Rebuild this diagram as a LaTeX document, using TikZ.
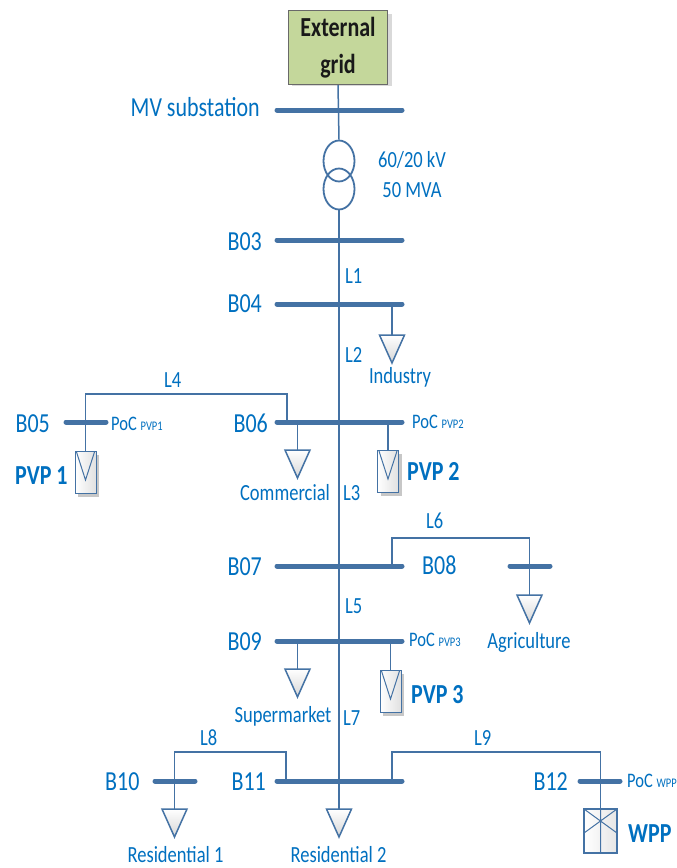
\documentclass[tikz,border=0pt]{standalone}
\usepackage{fontspec}
\setmainfont{Carlito}
\usepackage{graphicx}
\usetikzlibrary{shapes.geometric}
\definecolor{busc}{RGB}{68,114,164}
\definecolor{txtc}{RGB}{0,112,192}
\definecolor{gridfill}{RGB}{196,215,155}
\definecolor{gridline}{RGB}{105,105,105}
\newcommand\vs[1]{\scalebox{1}[1.25]{#1}}
\begin{document}
\begin{tikzpicture}[x=1pt,y=-1pt,
  bus/.style={draw=busc, line width=5pt, line cap=round},
  wire/.style={draw=busc, line width=1.5pt},
  lbl/.style={text=txtc, inner sep=0pt, font=\fontsize{22}{26}\selectfont},
  sml/.style={text=txtc, inner sep=0pt, font=\fontsize{18.5}{22}\selectfont},
  bld/.style={text=txtc, inner sep=0pt, font=\bfseries\fontsize{22}{26}\selectfont},
  poc/.style={text=txtc, inner sep=0pt, font=\fontsize{16.5}{20}\selectfont},
  trafo/.style={ellipse, draw=busc, line width=1.8pt, minimum width=31pt, minimum height=41pt, inner sep=0pt},
  gridbox/.style={draw=gridline, line width=1.2pt, fill=gridfill, minimum width=99pt, minimum height=71pt, inner sep=0pt,
     font=\bfseries\fontsize{22}{29.6}\selectfont, text=black!90},
  loadtri/.pic={\draw[wire, top color=white, bottom color=black!16] (-12.5,0) -- (12.5,0) -- (0,28) -- cycle;},
  panel/.pic={
    \fill[black!22] (-7.5,4) rectangle (13.5,46);
    \draw[draw=busc, line width=1pt, left color=white, right color=black!12] (-10.5,0) rectangle (10.5,42);
    \draw[draw=busc, line width=1pt] (-9,1) -- (0,29) -- (9,1);},
  wppbox/.pic={
    \draw[draw=busc, line width=1.2pt, left color=white, right color=black!10] (-16.5,0) rectangle (16.5,44);
    \draw[draw=busc, line width=1pt] (-16.5,0) -- (16.5,24) (16.5,0) -- (-16.5,24) (0,0) -- (0,44);}
]
\useasboundingbox (0,0) rectangle (677,868);
\fill[white] (0,0) rectangle (677,868);

% external grid
\fill[black!15] (292,14) rectangle (392,86);
\node[gridbox] (grid) at (338,47.5) {\vs{\begin{tabular}{@{}c@{}}External\\grid\end{tabular}}};

% transformer
\node[trafo] (tr1) at (339,161) {};
\node[trafo] (tr2) at (339,189) {};
\node[sml, anchor=base] (trv) at (412,167) {\vs{60/20 kV}};
\node[sml, anchor=base] (trs) at (412,197) {\vs{50 MVA}};

% coordinates
\coordinate (mvw) at (277,110); \coordinate (mve) at (402,110);
\coordinate (b03w) at (277,240); \coordinate (b03e) at (402,240);
\coordinate (b04w) at (277,304); \coordinate (b04e) at (402,304);
\coordinate (b06w) at (277,422); \coordinate (b06e) at (402,422);
\coordinate (b07w) at (277,566); \coordinate (b07e) at (402,566);
\coordinate (b09w) at (277,641); \coordinate (b09e) at (402,641);
\coordinate (b11w) at (277,781); \coordinate (b11e) at (402,781);
\coordinate (b05w) at (66,422); \coordinate (b05e) at (106,422);
\coordinate (b08w) at (510,566); \coordinate (b08e) at (550,566);
\coordinate (b10w) at (155,781); \coordinate (b10e) at (195,781);
\coordinate (b12w) at (580,781); \coordinate (b12e) at (620,781);

% main feeder
\coordinate (res2) at (339,809);
\draw[wire] (grid.south) -- (tr1.north);
\draw[wire] (tr2.south) -- (res2);

% buses
\foreach \b in {mv,b03,b04,b06,b07,b09,b11,b05,b08,b10,b12}
  \draw[bus] (\b w) -- (\b e);

% industry
\coordinate (b04t) at (392,304); \coordinate (ind) at (392,335);
\draw[wire] (b04t) -- (ind);
\pic at (ind) {loadtri};

% L4 and PVP1
\coordinate (b06l4) at (287,422); \coordinate (l4a) at (287,394);
\coordinate (l4b) at (85.5,394); \coordinate (pv1) at (85.5,451);
\draw[wire] (b06l4) -- (l4a) -- (l4b) -- (pv1);
\pic at (pv1) {panel};

% commercial
\coordinate (b06c) at (297.5,422); \coordinate (com) at (297.5,450);
\draw[wire] (b06c) -- (com);
\pic at (com) {loadtri};

% PVP2
\coordinate (b06p) at (388,422); \coordinate (pv2) at (388,450);
\draw[wire] (b06p) -- (pv2);
\pic at (pv2) {panel};

% L6, agriculture
\coordinate (b07l6) at (392,566); \coordinate (l6a) at (392,538);
\coordinate (l6b) at (529.5,538); \coordinate (agr) at (529.5,595);
\draw[wire] (b07l6) -- (l6a) -- (l6b) -- (agr);
\pic at (agr) {loadtri};

% supermarket
\coordinate (b09s) at (297.5,641); \coordinate (sup) at (297.5,669);
\draw[wire] (b09s) -- (sup);
\pic at (sup) {loadtri};

% PVP3
\coordinate (b09p) at (390.5,641); \coordinate (pv3) at (390.5,670);
\draw[wire] (b09p) -- (pv3);
\pic at (pv3) {panel};

% L8, residential 1
\coordinate (b11l8) at (286,781); \coordinate (l8a) at (286,752);
\coordinate (l8b) at (174.5,752); \coordinate (res1) at (174.5,809);
\draw[wire] (b11l8) -- (l8a) -- (l8b) -- (res1);
\pic at (res1) {loadtri};
\pic at (res2) {loadtri};

% L9, WPP
\coordinate (b11l9) at (392,781); \coordinate (l9a) at (392,752);
\coordinate (l9b) at (600.5,752); \coordinate (wpp) at (600.5,809);
\draw[wire] (b11l9) -- (l9a) -- (l9b) -- (wpp);
\pic at (wpp) {wppbox};

% labels
\node[lbl, anchor=base east] (tmv) at (260,116) {\vs{MV substation}};
\node[lbl, anchor=base east] (tb03) at (262,250) {\vs{B03}};
\node[lbl, anchor=base east] (tb04) at (262,312) {\vs{B04}};
\node[lbl, anchor=base east] (tb05) at (50,432) {\vs{B05}};
\node[lbl, anchor=base east] (tb06) at (268,432) {\vs{B06}};
\node[lbl, anchor=base east] (tb07) at (262,575) {\vs{B07}};
\node[lbl, anchor=base west] (tb08) at (422,574) {\vs{B08}};
\node[lbl, anchor=base east] (tb09) at (262,650) {\vs{B09}};
\node[lbl, anchor=base west] (tb10) at (105,790) {\vs{B10}};
\node[lbl, anchor=base east] (tb11) at (266,790) {\vs{B11}};
\node[lbl, anchor=base east] (tb12) at (568,790) {\vs{B12}};

\node[sml, anchor=base west] (tl1) at (345,283) {\vs{L1}};
\node[sml, anchor=base west] (tl2) at (345,362) {\vs{L2}};
\node[sml, anchor=base west] (tl3) at (343,500) {\vs{L3}};
\node[sml, anchor=base west] (tl4) at (164,387) {\vs{L4}};
\node[sml, anchor=base west] (tl5) at (345,613) {\vs{L5}};
\node[sml, anchor=base west] (tl6) at (426,528) {\vs{L6}};
\node[sml, anchor=base west] (tl7) at (343,725) {\vs{L7}};
\node[sml, anchor=base west] (tl8) at (200,745) {\vs{L8}};
\node[sml, anchor=base west] (tl9) at (474,745) {\vs{L9}};

\node[sml, anchor=base] (tind) at (400,383) {\vs{Industry}};
\node[sml, anchor=base] (tcom) at (285,500) {\vs{Commercial}};
\node[sml, anchor=base] (tagr) at (529,648) {\vs{Agriculture}};
\node[sml, anchor=base] (tsup) at (283,722) {\vs{Supermarket}};
\node[sml, anchor=base] (tres1) at (175.5,862) {\vs{Residential 1}};
\node[sml, anchor=base] (tres2) at (338.5,862) {\vs{Residential 2}};

\node[poc, anchor=base west] (tpoc1) at (111,430) {\vs{PoC {\fontsize{10.5}{12}\selectfont PVP1}}};
\node[poc, anchor=base west] (tpoc2) at (412,428) {\vs{PoC {\fontsize{10.5}{12}\selectfont PVP2}}};
\node[poc, anchor=base west] (tpoc3) at (409,646) {\vs{PoC {\fontsize{10.5}{12}\selectfont PVP3}}};
\node[poc, anchor=base west] (tpocw) at (627,787) {\vs{PoC {\fontsize{10.5}{12}\selectfont WPP}}};

\node[bld, anchor=base west] (tpv1) at (15,484) {\vs{PVP 1}};
\node[bld, anchor=base west] (tpv2) at (407,480) {\vs{PVP 2}};
\node[bld, anchor=base west] (tpv3) at (411,703) {\vs{PVP 3}};
\node[bld, anchor=base west] (twpp) at (628,842) {\vs{WPP}};
\end{tikzpicture}
\end{document}
